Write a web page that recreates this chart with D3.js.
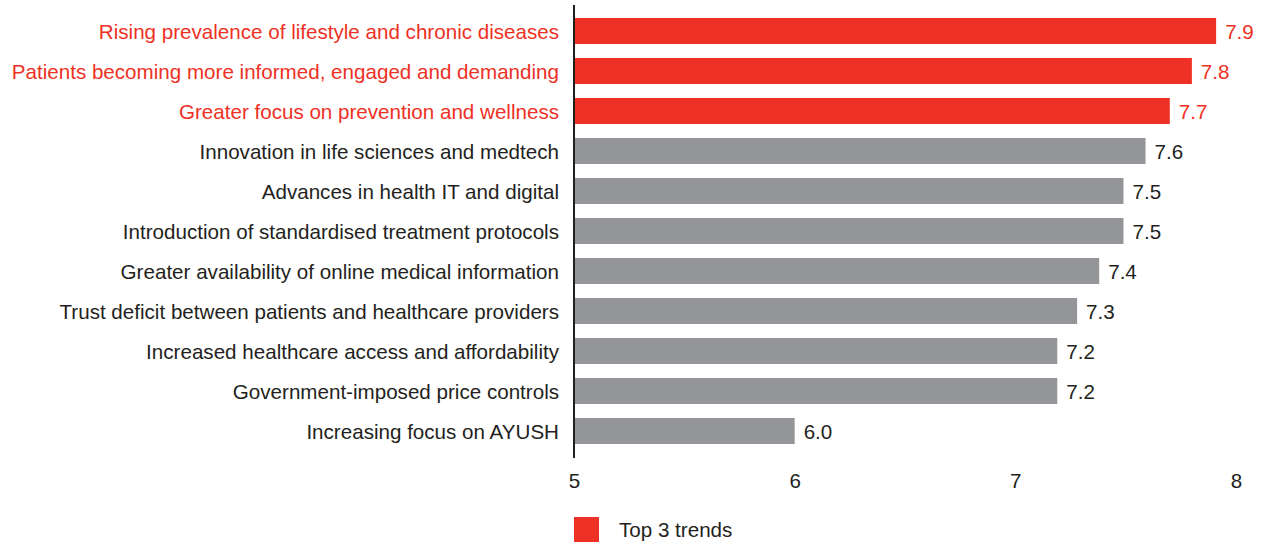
<!DOCTYPE html>
<html>
<head>
<meta charset="utf-8">
<script src="https://cdn.jsdelivr.net/npm/d3@7"></script>
<style>
  body { margin: 0; background: #fff; }
  svg { display: block; font-family: "Liberation Sans", Arial, sans-serif; }
  .lbl { font-size: 20.6px; fill: #231f20; }
  .top .lbl, .top .val { fill: #ee3124; }
  .val { font-size: 20.6px; fill: #231f20; }
  .x.axis text { font-size: 20.6px; fill: #231f20; }
  .x.axis .domain, .x.axis line { display: none; }
</style>
</head>
<body>
<svg id="chart" width="1266" height="544"></svg>
<script>
const categories = [
  "Rising prevalence of lifestyle and chronic diseases",
  "Patients becoming more informed, engaged and demanding",
  "Greater focus on prevention and wellness",
  "Innovation in life sciences and medtech",
  "Advances in health IT and digital",
  "Introduction of standardised treatment protocols",
  "Greater availability of online medical information",
  "Trust deficit between patients and healthcare providers",
  "Increased healthcare access and affordability",
  "Government-imposed price controls",
  "Increasing focus on AYUSH"
];
// bar lengths (labels are rounded to one decimal)
const scores = [7.91, 7.80, 7.70, 7.59, 7.49, 7.49, 7.38, 7.28, 7.19, 7.19, 6.0];
const topCount = 3;
const xTicks = [5, 6, 7, 8];
const legendLabel = "Top 3 trends";

const RED = "#ee3124", GREY = "#939598";
const svg = d3.select("#chart");

const x = d3.scaleLinear().domain([5, 8]).range([574, 1236]);
const y = d3.scaleBand().domain(categories).range([11, 451])
  .paddingInner(0.35).paddingOuter(0.175);

const rows = svg.append("g").selectAll("g")
  .data(categories.map((c, i) => ({ c, v: scores[i], top: i < topCount })))
  .join("g")
  .attr("class", d => d.top ? "top" : "");

rows.append("rect")
  .attr("x", x(5))
  .attr("y", d => y(d.c))
  .attr("width", d => x(d.v) - x(5))
  .attr("height", y.bandwidth())
  .attr("fill", d => d.top ? RED : GREY);

rows.append("text")
  .attr("class", "lbl")
  .attr("x", x(5) - 15)
  .attr("y", d => y(d.c) + y.bandwidth() / 2 + 1)
  .attr("dy", "0.35em")
  .attr("text-anchor", "end")
  .text(d => d.c);

rows.append("text")
  .attr("class", "val")
  .attr("x", d => x(d.v) + 9)
  .attr("y", d => y(d.c) + y.bandwidth() / 2 + 1)
  .attr("dy", "0.35em")
  .text(d => d3.format(".1f")(d.v));

// vertical baseline
svg.append("line")
  .attr("x1", x(5)).attr("x2", x(5))
  .attr("y1", 5).attr("y2", 458)
  .attr("stroke", "#231f20").attr("stroke-width", 2);

svg.append("g")
  .attr("class", "x axis")
  .attr("transform", "translate(0,470)")
  .call(d3.axisBottom(x).tickValues(xTicks).tickFormat(d3.format("d")).tickSize(0).tickPadding(3));

// legend
const lg = svg.append("g").attr("transform", "translate(574,517)");
lg.append("rect").attr("width", 25).attr("height", 25).attr("fill", RED);
lg.append("text").attr("x", 45).attr("y", 12.5).attr("dy", "0.35em")
  .attr("class", "lbl").text(legendLabel);
</script>
</body>
</html>
